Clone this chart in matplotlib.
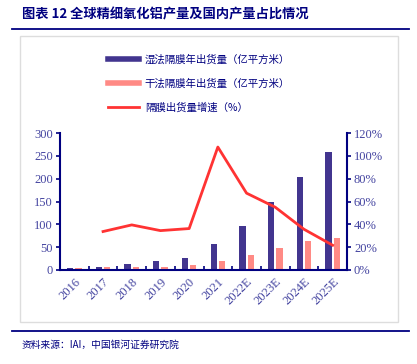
import matplotlib
matplotlib.use('Agg')

import matplotlib.pyplot as plt
from matplotlib.lines import Line2D
from matplotlib.patches import Rectangle
import numpy as np

plt.rcParams['font.family'] = ['Noto Sans CJK SC', 'DejaVu Sans']

years = ['2016', '2017', '2018', '2019', '2020', '2021',
         '2022E', '2023E', '2024E', '2025E']
wet = [3.5, 7, 13, 19, 26, 57, 97, 149, 203, 259]
dry = [5, 6, 6.5, 6.5, 10, 20, 32, 49, 64, 70]
growth = [None, 33.7, 39.5, 34.5, 36.3, 107.7, 67.3, 55.0, 35.7, 21.7]

navy = '#000080'
tick_color = '#4444A0'
wet_color = '#42358F'
dry_color = '#FF8A85'
line_color = '#FF3333'

W, H = 417, 364
fig = plt.figure(figsize=(W / 100, H / 100), dpi=100)

# outer frame and rules
fig.patches.append(Rectangle((20 / W, 1 - 322 / H), 378 / W, 286 / H,
                             transform=fig.transFigure, fill=False,
                             edgecolor='#DDDDDD', lw=1))
fig.add_artist(Line2D([12 / W, 409 / W], [1 - 29 / H, 1 - 29 / H],
                      color=navy, lw=1.3))
fig.add_artist(Line2D([12 / W, 409 / W], [1 - 331 / H, 1 - 331 / H],
                      color=navy, lw=1.3))

fig.text(22 / W, 1 - 14 / H, '图表 12 全球精细氧化铝产量及国内产量占比情况',
         fontsize=9.5, fontweight='bold', color=navy, va='center', ha='left')
fig.text(22 / W, 1 - 345 / H, '资料来源：IAI，中国银河证券研究院',
         fontsize=7, style='italic', color=navy, va='center', ha='left')

ax = fig.add_axes([60 / W, 1 - 270 / H, 287 / W, 137 / H])
ax2 = ax.twinx()

x = np.arange(len(years))
bw = 0.22
ax.bar(x - 0.145, wet, width=bw, color=wet_color, zorder=2)
ax.bar(x + 0.145, dry, width=bw, color=dry_color, zorder=2)

gx = [i for i, g in enumerate(growth) if g is not None]
gy = [g for g in growth if g is not None]
ax2.plot(gx, gy, color=line_color, lw=2)

ax.set_xlim(-0.5, len(years) - 0.5)
ax.set_ylim(0, 300)
ax.set_yticks(range(0, 301, 50))
ax2.set_ylim(0, 120)
ax2.set_yticks(range(0, 121, 20))
ax2.set_yticklabels([f'{v}%' for v in range(0, 121, 20)])

ax.set_xticks(x)
ax.set_xticks(np.arange(-0.5, len(years), 1), minor=True)
ax.set_xticklabels(years)
ax.tick_params(axis='x', which='major', length=0, pad=4)
ax.tick_params(axis='x', which='minor', length=3, direction='in',
               color=navy, width=1.2)
for lab in ax.get_xticklabels():
    lab.set_rotation(45)
    lab.set_ha('right')
    lab.set_rotation_mode('anchor')

for a in (ax, ax2):
    a.spines['top'].set_visible(False)
    a.tick_params(axis='y', colors=navy, labelcolor=tick_color,
                  length=3, width=1.2, pad=2)
    for lab in a.get_yticklabels() + a.get_xticklabels():
        lab.set_fontfamily(['Liberation Serif', 'DejaVu Serif'])
        lab.set_color(tick_color)
        lab.set_fontsize(9)

ax.spines['left'].set_color(navy)
ax.spines['left'].set_linewidth(1.5)
ax.spines['bottom'].set_color(navy)
ax.spines['bottom'].set_linewidth(1.5)
ax.spines['right'].set_visible(False)
ax2.spines['left'].set_visible(False)
ax2.spines['bottom'].set_visible(False)
ax2.spines['right'].set_color(navy)
ax2.spines['right'].set_linewidth(1.5)

handles = [Line2D([], [], color=wet_color, lw=4),
           Line2D([], [], color=dry_color, lw=4),
           Line2D([], [], color=line_color, lw=2)]
labels = ['湿法隔膜年出货量（亿平方米）', '干法隔膜年出货量（亿平方米）', '隔膜出货量增速（%）']
leg = fig.legend(handles, labels, loc='upper left',
                 bbox_to_anchor=(99 / W, 1 - 45 / H), frameon=False,
                 fontsize=7.5, handlelength=2.9, labelspacing=1.3,
                 handletextpad=0.6)
for t in leg.get_texts():
    t.set_color(navy)

fig.savefig('out.png', dpi=100)
